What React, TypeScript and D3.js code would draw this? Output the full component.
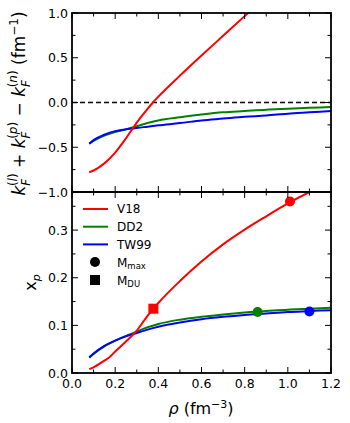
import React from 'react';
import * as d3 from 'd3';

// density grid (fm^-3)
const rhoGrid = [0.08, 0.1, 0.15, 0.2, 0.25, 0.28, 0.3, 0.35, 0.4, 0.5, 0.6, 0.7, 0.8, 0.9, 1.0, 1.1, 1.2];

// top panel: k_F(l) + k_F(p) - k_F(n)
const rhoV18Top = [0.08, 0.1, 0.15, 0.2, 0.25, 0.28, 0.3, 0.35, 0.375, 0.4, 0.5, 0.6, 0.7, 0.8, 0.86];
const dkV18 = [-0.78, -0.76, -0.68, -0.56, -0.40, -0.295, -0.225, -0.07, 0.0, 0.065, 0.30, 0.525, 0.745, 0.965, 1.095];
const dkDD2 = [-0.46, -0.43, -0.37, -0.33, -0.30, -0.28, -0.265, -0.23, -0.20, -0.165, -0.135, -0.11, -0.095, -0.08, -0.07, -0.06, -0.05];
const dkTW99 = [-0.46, -0.42, -0.36, -0.32, -0.30, -0.29, -0.285, -0.27, -0.255, -0.23, -0.20, -0.18, -0.16, -0.145, -0.125, -0.11, -0.095];

// bottom panel: proton fraction
const rhoV18Bot = [0.08, 0.1, 0.15, 0.17, 0.2, 0.25, 0.3, 0.35, 0.377, 0.4, 0.5, 0.6, 0.7, 0.8, 0.9, 1.0, 1.1, 1.15];
const xpV18 = [0.008, 0.012, 0.026, 0.032, 0.045, 0.066, 0.089, 0.120, 0.135, 0.147, 0.193, 0.234, 0.27, 0.301, 0.329, 0.356, 0.38, 0.391];
const xpDD2 = [0.032, 0.04, 0.056, 0.068, 0.078, 0.083, 0.087, 0.096, 0.103, 0.112, 0.118, 0.123, 0.127, 0.13, 0.133, 0.135, 0.137];
const xpTW99 = [0.033, 0.041, 0.057, 0.068, 0.077, 0.081, 0.084, 0.091, 0.097, 0.106, 0.113, 0.118, 0.122, 0.125, 0.128, 0.13, 0.132];

// markers
const mmax = [
  { rho: 1.01, xp: 0.36, color: 'red' },
  { rho: 0.86, xp: 0.128, color: 'green' },
  { rho: 1.10, xp: 0.129, color: 'blue' },
];
const mdu = [{ rho: 0.377, xp: 0.135, color: 'red' }];

const xTicks = [0, 0.2, 0.4, 0.6, 0.8, 1.0, 1.2];
const topTicks = [-1.0, -0.5, 0.0, 0.5, 1.0];
const botTicks = [0.0, 0.1, 0.2, 0.3];

const font = 'DejaVu Sans, sans-serif';

const App = () => {
  const left = 72, right = 331;
  const topY0 = 13, topY1 = 192, botY0 = 192, botY1 = 373;

  const x = d3.scaleLinear().domain([0, 1.2]).range([left, right]);
  const yTop = d3.scaleLinear().domain([-1, 1]).range([topY1, topY0]);
  const yBot = d3.scaleLinear().domain([0, 0.38]).range([botY1, botY0]);

  const lineTop = (xs: number[], ys: number[]) =>
    d3.line<number>().x((_, i) => x(xs[i])).y(d => yTop(d)).curve(d3.curveMonotoneX)(ys) || '';
  const lineBot = (xs: number[], ys: number[]) =>
    d3.line<number>().x((_, i) => x(xs[i])).y(d => yBot(d)).curve(d3.curveMonotoneX)(ys) || '';

  const xMinor = d3.range(0, 1.21, 0.1);
  const topMinor = d3.range(-1, 1.01, 0.25);
  const botMinor = d3.range(0, 0.38, 0.05);
  const isMajor = (v: number, step: number) => Math.abs(v / step - Math.round(v / step)) < 1e-6;

  const tickLines: JSX.Element[] = [];
  xMinor.forEach((v, i) => {
    const L = isMajor(v, 0.2) ? 6 : 3.5;
    const px = x(v);
    tickLines.push(<line key={'xt' + i} x1={px} x2={px} y1={topY0} y2={topY0 + L} />);
    tickLines.push(<line key={'xb' + i} x1={px} x2={px} y1={topY1} y2={topY1 - L} />);
    tickLines.push(<line key={'xt2' + i} x1={px} x2={px} y1={botY0} y2={botY0 + L} />);
    tickLines.push(<line key={'xb2' + i} x1={px} x2={px} y1={botY1} y2={botY1 - L} />);
  });
  topMinor.forEach((v, i) => {
    const L = isMajor(v, 0.5) ? 6 : 3.5;
    const py = yTop(v);
    tickLines.push(<line key={'yl' + i} x1={left} x2={left + L} y1={py} y2={py} />);
    tickLines.push(<line key={'yr' + i} x1={right} x2={right - L} y1={py} y2={py} />);
  });
  botMinor.forEach((v, i) => {
    const L = isMajor(v, 0.1) ? 6 : 3.5;
    const py = yBot(v);
    tickLines.push(<line key={'bl' + i} x1={left} x2={left + L} y1={py} y2={py} />);
    tickLines.push(<line key={'br' + i} x1={right} x2={right - L} y1={py} y2={py} />);
  });

  return (
    <div style={{ position: 'absolute', left: 0, top: 0 }}>
      <svg width={350} height={423} style={{ display: 'block', background: '#fff' }} fontFamily={font}>
        <defs>
          <clipPath id="clipTop"><rect x={left} y={topY0} width={right - left} height={topY1 - topY0} /></clipPath>
          <clipPath id="clipBot"><rect x={left} y={botY0} width={right - left} height={botY1 - botY0} /></clipPath>
        </defs>

        {/* top panel */}
        <line x1={left} x2={right} y1={yTop(0)} y2={yTop(0)} stroke="black" strokeWidth={1.5} strokeDasharray="5,3" />
        <g clipPath="url(#clipTop)" fill="none" strokeWidth={2}>
          <path d={lineTop(rhoGrid, dkDD2)} stroke="green" />
          <path d={lineTop(rhoGrid, dkTW99)} stroke="blue" />
          <path d={lineTop(rhoV18Top, dkV18)} stroke="red" />
        </g>

        {/* bottom panel */}
        <g clipPath="url(#clipBot)" fill="none" strokeWidth={2}>
          <path d={lineBot(rhoGrid, xpDD2)} stroke="green" />
          <path d={lineBot(rhoGrid, xpTW99)} stroke="blue" />
          <path d={lineBot(rhoV18Bot, xpV18)} stroke="red" />
        </g>
        {mmax.map((m, i) => (
          <circle key={'c' + i} cx={x(m.rho)} cy={yBot(m.xp)} r={5} fill={m.color} />
        ))}
        {mdu.map((m, i) => (
          <rect key={'s' + i} x={x(m.rho) - 5} y={yBot(m.xp) - 5} width={10} height={10} fill={m.color} />
        ))}

        {/* legend */}
        {[['V18', 'red'], ['DD2', 'green'], ['TW99', 'blue']].map(([lab, c], i) => (
          <g key={lab} transform={`translate(0,${209 + i * 17.7})`}>
            <line x1={83} x2={108} y1={0} y2={0} stroke={c} strokeWidth={2} />
            <text x={117} y={4.2} fontSize={12}>{lab}</text>
          </g>
        ))}
        <circle cx={95} cy={262} r={5} fill="black" />
        <text x={117} y={266.5} fontSize={12}>M<tspan fontSize={8.5} dy={2.5}>max</tspan></text>
        <rect x={90} y={275} width={10} height={10} fill="black" />
        <text x={117} y={284.5} fontSize={12}>M<tspan fontSize={8.5} dy={2.5}>DU</tspan></text>

        {/* frames and ticks */}
        <g stroke="black" strokeWidth={1}>{tickLines}</g>
        <rect x={left} y={topY0} width={right - left} height={topY1 - topY0} fill="none" stroke="black" strokeWidth={1.8} />
        <rect x={left} y={botY0} width={right - left} height={botY1 - botY0} fill="none" stroke="black" strokeWidth={1.8} />

        {/* tick labels */}
        {topTicks.map(t => (
          <text key={'tt' + t} x={left - 4} y={yTop(t) + 4.5} fontSize={12.5} textAnchor="end">
            {d3.format('.1f')(t).replace('-', '\u2212')}
          </text>
        ))}
        {botTicks.map(t => (
          <text key={'bt' + t} x={left - 4} y={yBot(t) + 4.5} fontSize={12.5} textAnchor="end">
            {d3.format('.1f')(t)}
          </text>
        ))}
        {xTicks.map(t => (
          <text key={'xl' + t} x={x(t)} y={388} fontSize={12.5} textAnchor="middle">
            {d3.format('.1f')(t)}
          </text>
        ))}

        {/* axis labels */}
        <text x={201} y={414} fontSize={16} textAnchor="middle">
          <tspan fontStyle="italic">ρ</tspan> (fm<tspan fontSize={11} dy={-6.5}>−3</tspan><tspan dy={6.5}>)</tspan>
        </text>
        <text transform={`translate(36,${yBot(0.19)}) rotate(-90)`} fontSize={16} textAnchor="middle">
          x<tspan fontSize={11} fontStyle="italic" dy={3.5}>p</tspan>
        </text>
        <text transform={`translate(25,${(topY0 + topY1) / 2 + 1}) rotate(-90)`} fontSize={17} textAnchor="middle">
          <tspan fontStyle="italic">k</tspan>
          <tspan fontStyle="italic" fontSize={12} dy={4.5}>F</tspan>
          <tspan fontSize={12} dx={-7.3} dy={-12.5}>(<tspan fontStyle="italic">l</tspan>)</tspan>
          <tspan dy={8}> + </tspan>
          <tspan fontStyle="italic">k</tspan>
          <tspan fontStyle="italic" fontSize={12} dy={4.5}>F</tspan>
          <tspan fontSize={12} dx={-7.3} dy={-12.5}>(<tspan fontStyle="italic">p</tspan>)</tspan>
          <tspan dy={8}> − </tspan>
          <tspan fontStyle="italic">k</tspan>
          <tspan fontStyle="italic" fontSize={12} dy={4.5}>F</tspan>
          <tspan fontSize={12} dx={-7.3} dy={-12.5}>(<tspan fontStyle="italic">n</tspan>)</tspan>
          <tspan dy={8}> (fm</tspan>
          <tspan fontSize={12} dy={-7}>−1</tspan>
          <tspan dy={7}>)</tspan>
        </text>
      </svg>
    </div>
  );
};

export default App;
